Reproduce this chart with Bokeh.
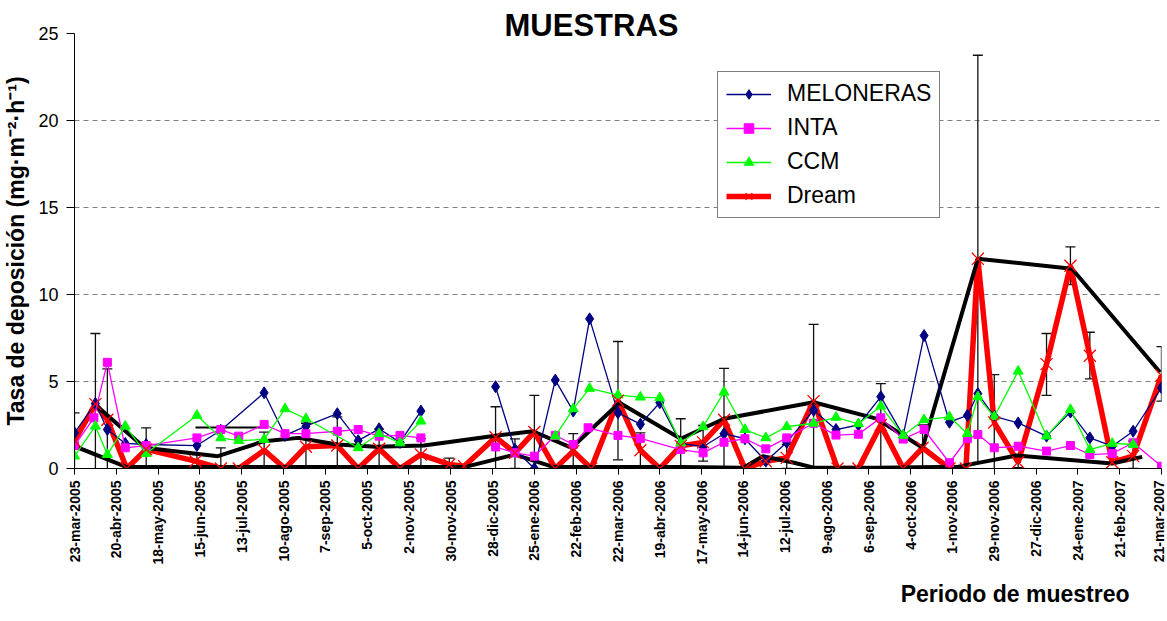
import numpy as np
from bokeh.plotting import figure
from bokeh.models import (Range1d, FixedTicker, Legend, LegendItem, Title,
                          Whisker, TeeHead, ColumnDataSource)
from bokeh.embed import file_html
from bokeh.resources import INLINE

nan = float("nan")

# ---- x axis: days since 23-mar-2005, ticks every 28 days ----
tick_days = list(range(0, 729, 28))
tick_labels = ["23-mar-2005", "20-abr-2005", "18-may-2005", "15-jun-2005", "13-jul-2005",
               "10-ago-2005", "7-sep-2005", "5-oct-2005", "2-nov-2005", "30-nov-2005",
               "28-dic-2005", "25-ene-2006", "22-feb-2006", "22-mar-2006", "19-abr-2006",
               "17-may-2006", "14-jun-2006", "12-jul-2006", "9-ago-2006", "6-sep-2006",
               "4-oct-2006", "1-nov-2006", "29-nov-2006", "27-dic-2006", "24-ene-2007",
               "21-feb-2007", "21-mar-2007"]
y_ticks = [0, 5, 10, 15, 20, 25]

# ---- series (day offset, value) ----
mel_days = [0, 14, 22, 34, 48, 82, 98, 127, 141, 155, 176, 190, 204, 218, 232, 257,
            282, 295, 308, 322, 334, 345, 364, 379, 392, 406, 421, 435, 449, 463, 477,
            495, 510, 525, 540, 555, 569, 586, 598, 605, 616, 632, 651, 667, 680, 695, 709, 728]
mel_vals = [2.05, 3.74, 2.24, 1.44, 1.38, 1.32, 2.2, 4.35, 1.9, 2.43, 3.15, 1.6, 2.28, 1.5, 3.3, nan,
            4.7, 1.09, 0.0, 5.08, 3.3, 8.6, 3.2, 2.55, 3.78, 1.45, 1.25, 2.0, 1.71, 0.42, 1.5,
            3.35, 2.24, 2.5, 4.12, 1.9, 7.64, 2.66, 3.05, 4.3, 3.0, 2.62, 1.86, 3.24, 1.76, 1.28, 2.14, 4.64]

inta_days = [0, 13, 22, 34, 48, 82, 98, 110, 127, 141, 155, 176, 190, 204, 218, 232, 257,
             282, 295, 308, 322, 334, 344, 364, 379, 406, 421, 435, 449, 463, 477, 495, 510,
             525, 540, 555, 569, 586, 598, 605, 616, 632, 651, 667, 680, 695, 709, 728]
inta_vals = [1.32, 2.91, 6.1, 1.19, 1.32, 1.76, 2.24, 1.86, 2.53, 2.0, 2.0, 2.14, 2.24, 1.86, 1.9, 1.76, nan,
             1.24, 0.9, 0.71, 1.9, 1.38, 2.34, 1.9, 1.73, 1.09, 0.9, 1.51, 1.71, 1.13, 1.76, 2.6, 1.92,
             1.97, 2.91, 1.69, 2.24, 0.33, 1.71, 1.95, 1.19, 1.28, 1.0, 1.32, 0.8, 0.86, 1.48, 0.13]

ccm_days = [0, 14, 22, 34, 48, 82, 98, 110, 127, 141, 155, 190, 204, 218, 232, 257,
            322, 334, 345, 364, 379, 392, 406, 421, 435, 449, 463, 477, 495, 510, 525, 540,
            555, 569, 586, 598, 605, 616, 632, 651, 667, 680, 695, 709]
ccm_vals = [0.71, 2.43, 0.8, 2.43, 0.86, 3.05, 1.76, 1.6, 1.67, 3.43, 2.86, 1.19, 2.0, 1.47, 2.72, nan,
            1.86, 3.43, 4.6, 4.22, 4.1, 4.06, 1.46, 2.4, 4.39, 2.24, 1.76, 2.4, 2.6, 2.94, 2.57, 3.58,
            1.9, 2.8, 2.97, 2.0, 4.12, 2.97, 5.59, 1.86, 3.39, 1.09, 1.44, 1.38]

dream_days = [0, 14, 22, 35, 48, 81, 98, 110, 127, 141, 155, 176, 190, 204, 218, 232, 251, 261,
              282, 295, 308, 322, 334, 346, 364, 379, 392, 406, 421, 435, 449, 463, 477, 495,
              511, 525, 540, 555, 568, 586, 597, 605, 616, 632, 651, 667, 680, 695, 709, 728]
dream_vals = [1.6, 3.7, 2.8, 0, 1.1, 0.42, 0, 0, 1.05, 0, 1.25, 1.32, 0, 1.13, 0, 0.8, 0.23, 0.13,
              1.8, 0.9, 2.1, 0, 1.0, 0, 3.9, 1.05, 0, 1.3, 1.5, 2.8, 0, 0.42, 0.61, 3.87,
              0, 0, 2.5, 0, 1.19, 0, 0, 12.05, 2.64, 0.36, 6.0, 11.65, 6.48, 0.36, 0.71, 5.35]

# error bars (day, low, high)
err_days = [0, 14, 22, 48, 82, 98, 127, 155, 176, 204, 232, 251, 282, 295, 308, 334, 364, 379,
            406, 421, 435, 477, 495, 540, 568, 605, 616, 632, 651, 667, 680, 709, 728]
err_low = [-0.25, -0.4, -0.06, -0.2, 0.05, -0.2, 0, -0.1, -0.15, 0, -0.1, -0.15, -0.2, 0, 0, -0.1,
           0.5, 0, -0.2, 0.42, -0.4, 0, -0.5, -0.3, -0.1, 0.35, -0.2, 0.05, 4.2, 10.57, 5.15, 0, 3.87]
err_high = [3.2, 7.76, 5.73, 2.34, 0.8, 1.19, 2.09, 2.6, 2.97, 2.26, 1.72, 0.6, 3.55, 1.7, 4.2, 2.0,
            7.3, 2.05, 2.86, 2.47, 5.75, 1.38, 8.28, 4.88, 2.5, 23.75, 5.4, 0.7, 7.76, 12.74, 7.83, 1.57, 7.0]

# black lines (not in legend)
upper_days = [12, 47, 96, 127, 150, 176, 202, 234, 283, 307, 333, 365, 406, 435, 495, 537, 568, 605, 668, 727]
upper_vals = [3.8, 1.19, 0.71, 1.57, 1.76, 1.38, 1.25, 1.32, 1.9, 2.14, 1.19, 3.78, 1.71, 2.86, 3.81, 2.87,
              1.19, 12.05, 11.48, 5.53]
lower_days = [0, 35, 98, 150, 202, 261, 295, 321, 365, 406, 448, 461, 482, 495, 537, 592, 607, 631, 695, 715]
lower_vals = [1.28, 0.08, 0.08, 0.08, 0.08, 0.08, 0.8, 0.08, 0.08, 0.08, 0.05, 0.7, 0.33, 0.05, 0.05,
              0.1, 0.35, 0.75, 0.29, 0.67]
hbar_start = [81]
hbar_end = [126]
hbar_val = [2.35]

FONT = "Liberation Sans"

p = figure(width=1166, height=620, x_range=Range1d(0, 728), y_range=Range1d(0, 25),
           output_backend="svg", toolbar_location=None,
           min_border_left=74, min_border_right=5, min_border_top=33, min_border_bottom=152)
p.outline_line_color = None
p.background_fill_color = "white"
p.border_fill_color = "white"
p.xgrid.visible = False
p.ygrid.ticker = FixedTicker(ticks=y_ticks)
p.ygrid.grid_line_color = "#808080"
p.ygrid.grid_line_dash = "5 4"
p.ygrid.grid_line_width = 1

# title
p.title.text = "MUESTRAS"
p.title.align = "left"
p.title.offset = 430
p.title.standoff = -18
p.title.text_font = FONT
p.title.text_font_style = "bold"
p.title.text_font_size = "31px"
p.title.text_color = "black"

# axes
p.xaxis.ticker = FixedTicker(ticks=tick_days)
p.xaxis.major_label_overrides = {int(d): s for d, s in zip(tick_days, tick_labels)}
p.xaxis.major_label_orientation = np.pi / 2
p.xaxis.major_label_text_font = FONT
p.xaxis.major_label_text_font_style = "bold"
p.xaxis.major_label_text_font_size = "14px"
p.xaxis.major_label_text_color = "black"
p.xaxis.major_label_standoff = 6
p.xaxis.major_tick_out = 6
p.xaxis.major_tick_in = 0
p.xaxis.minor_tick_line_color = None
p.xaxis.axis_line_color = "black"
p.xaxis.major_tick_line_color = "black"

p.yaxis.ticker = FixedTicker(ticks=y_ticks)
p.yaxis.major_label_text_font = FONT
p.yaxis.major_label_text_font_size = "18px"
p.yaxis.major_label_text_color = "black"
p.yaxis.major_label_standoff = 8
p.yaxis.major_tick_out = 8
p.yaxis.major_tick_in = 0
p.yaxis.minor_tick_line_color = None
p.yaxis.axis_line_color = "black"
p.yaxis.major_tick_line_color = "black"
p.yaxis.axis_label = "Tasa de deposición (mg·m⁻²·h⁻¹)"
p.yaxis.axis_label_text_font = FONT
p.yaxis.axis_label_text_font_style = "bold"
p.yaxis.axis_label_text_font_size = "23px"
p.yaxis.axis_label_text_color = "black"
p.yaxis.axis_label_standoff = 6

# x-axis title, right aligned below the tick labels
p.add_layout(Title(text="Periodo de muestreo", align="right", offset=32, standoff=22,
                   text_font=FONT, text_font_style="bold", text_font_size="23px",
                   text_color="black"), "below")

# Dream thick line (below)
dream_line = p.line(dream_days, dream_vals, line_color="#FF0000", line_width=5.5)

# black lines
p.line(upper_days, upper_vals, line_color="black", line_width=4)
p.line(lower_days, lower_vals, line_color="black", line_width=4)
p.segment(x0=hbar_start, y0=hbar_val, x1=hbar_end, y1=hbar_val, line_color="black", line_width=2)

# error bars
esrc = ColumnDataSource(dict(base=err_days, lower=err_low, upper=err_high))
p.add_layout(Whisker(base="base", lower="lower", upper="upper", source=esrc, dimension="height",
                     line_color="#111111", line_width=1.3,
                     upper_head=TeeHead(size=10, line_color="#111111", line_width=1.3),
                     lower_head=TeeHead(size=10, line_color="#111111", line_width=1.3)))

# measured series
mel_line = p.line(mel_days, mel_vals, line_color="#000080", line_width=1.3)
mel_mk = p.scatter(mel_days, mel_vals, marker="diamond", size=12, fill_color="#000080",
                   line_color="#000080")
inta_line = p.line(inta_days, inta_vals, line_color="#FF00FF", line_width=1.3)
inta_mk = p.scatter(inta_days, inta_vals, marker="square", size=8, fill_color="#FF00FF",
                    line_color="#FF00FF")
ccm_line = p.line(ccm_days, ccm_vals, line_color="#00FF00", line_width=1.3)
ccm_mk = p.scatter(ccm_days, ccm_vals, marker="triangle", size=10, fill_color="#00FF00",
                   line_color="#00FF00")
dream_mk = p.scatter(dream_days, dream_vals, marker="x", size=17, line_color="#FF0000",
                     line_width=1.3)

legend = Legend(items=[
    LegendItem(label="MELONERAS", renderers=[mel_line, mel_mk]),
    LegendItem(label="INTA", renderers=[inta_line, inta_mk]),
    LegendItem(label="CCM", renderers=[ccm_line, ccm_mk]),
    LegendItem(label="Dream", renderers=[dream_line, dream_mk]),
], location=(643, 250))
legend.label_text_font = FONT
legend.label_text_font_size = "23px"
legend.label_text_color = "black"
legend.glyph_width = 45
legend.glyph_height = 24
legend.label_height = 24
legend.label_standoff = 16
legend.spacing = 7
legend.padding = 8
legend.margin = 0
legend.border_line_color = "black"
legend.border_line_width = 1
legend.background_fill_color = "white"
legend.background_fill_alpha = 1
p.add_layout(legend)

open("out.html", "w").write(file_html(p, INLINE))
